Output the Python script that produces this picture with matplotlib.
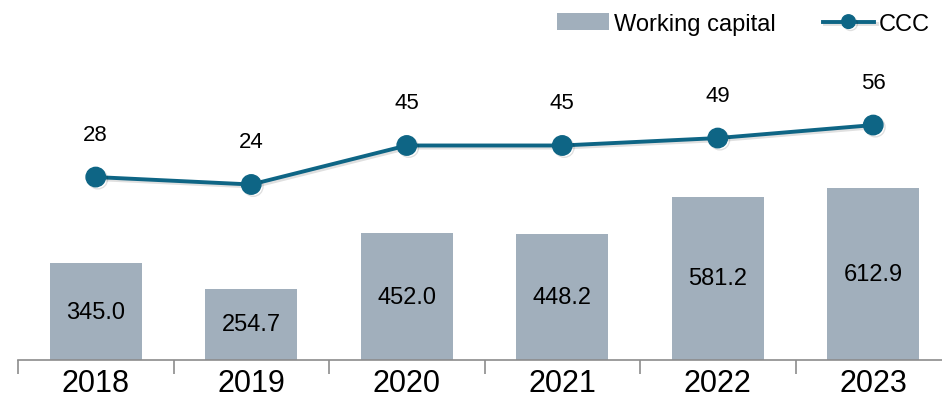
import matplotlib.pyplot as plt
import matplotlib.patheffects as pe
import numpy as np

plt.rcParams['font.family'] = ['Liberation Sans', 'DejaVu Sans']

years = ['2018', '2019', '2020', '2021', '2022', '2023']
working_capital = [345.0, 254.7, 452.0, 448.2, 581.2, 612.9]
ccc = [28, 24, 45, 45, 49, 56]

bar_color = '#A1AFBC'
line_color = '#0E6585'

fig = plt.figure(figsize=(9.42, 4.10), dpi=100)
# axes run slightly past the right edge of the figure
ax = fig.add_axes([18 / 942, 49 / 410, 933 / 942, 320 / 410])
x = np.arange(len(years))

ax.bar(x, working_capital, width=0.59, color=bar_color, label='Working capital', zorder=2)
for xi, v in zip(x, working_capital):
    ax.text(xi, v / 2, f'{v:.1f}', ha='center', va='center', fontsize=17, color='black')

ax.set_xlim(-0.5, len(years) - 0.5)
ax.set_ylim(0, 1140)
ax.set_yticks([])
for s in ['top', 'right', 'left']:
    ax.spines[s].set_visible(False)
ax.spines['bottom'].set_color('#8C8C8C')
ax.spines['bottom'].set_linewidth(1.2)

ax.set_xticks(x)
ax.set_xticklabels(years, fontsize=22)
ax.tick_params(axis='x', length=0, pad=6)
ax.set_xticks(np.arange(len(years) + 1) - 0.5, minor=True)
ax.tick_params(axis='x', which='minor', length=10, width=1.2, color='#8C8C8C')

ax2 = ax.twinx()
ax2.set_ylim(-70.5, 101.8)
ax2.set_yticks([])
for s in ax2.spines.values():
    s.set_visible(False)
ax2.plot(x, ccc, color=line_color, lw=2.8, marker='o', markersize=14, label='CCC', zorder=3,
         path_effects=[pe.SimpleLineShadow(offset=(1.5, -1.5), alpha=0.12, shadow_color='black'),
                       pe.Normal()])
for xi, v in zip(x, ccc):
    ax2.annotate(f'{v}', (xi, v), xytext=(0, 31), textcoords='offset points',
                 ha='center', va='center', fontsize=16, color='black')

h1, l1 = ax.get_legend_handles_labels()
h2, l2 = ax2.get_legend_handles_labels()
fig.legend(h1 + h2, l1 + l2, loc='upper right', bbox_to_anchor=(1.0, 0.995), ncol=2,
           frameon=False, fontsize=17, handlelength=2.2, handletextpad=0.2,
           columnspacing=2.0, borderaxespad=0.1, markerscale=0.7)

fig.savefig('out.png', dpi=100)
